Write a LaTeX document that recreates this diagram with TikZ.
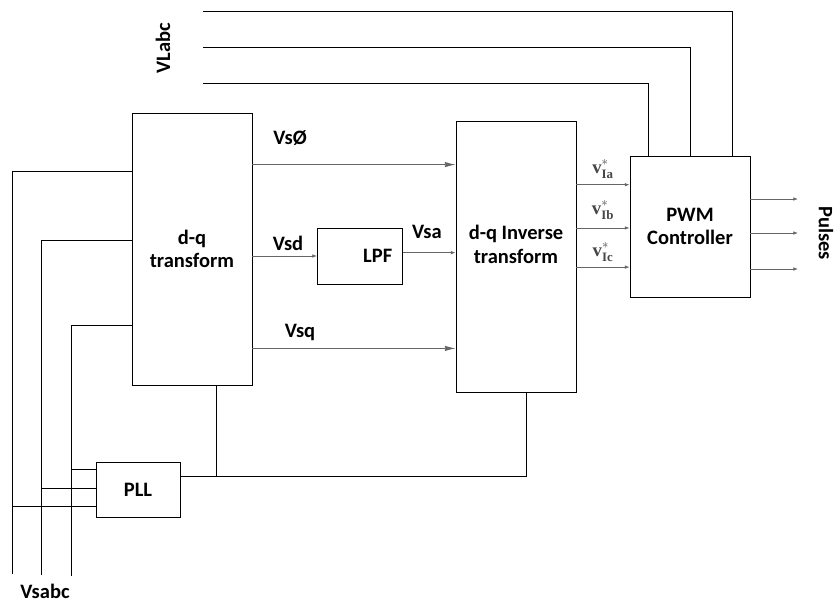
\documentclass[tikz,border=0pt]{standalone}
\usepackage{fontspec}
\setmainfont{Carlito}
\newfontfamily\vfont{Liberation Serif}
\usetikzlibrary{arrows.meta,positioning,calc}

\newcommand{\vref}[1]{{\vfont\bfseries v}$^{*}_{\mbox{\vfont\bfseries\fontsize{11}{12}\selectfont #1}}$}

\begin{document}
\begin{tikzpicture}[
    x=0.03cm, y=-0.03cm,
    font=\fontsize{17.5}{20}\selectfont\bfseries,
    blk/.style={draw, line width=0.8pt, align=center, inner sep=0pt},
    wire/.style={draw, line width=0.8pt},
    sig/.style={draw=gray!80!black, line width=0.6pt, -{Latex[length=4pt,width=3pt]}},
    big/.style={draw=gray!80!black, line width=0.6pt, -{Latex[length=9pt,width=4.5pt]}},
    lbl/.style={inner sep=1pt},
    vstar/.style={inner sep=1pt, text=gray!55!black, font=\fontsize{16}{18}\selectfont}
]
\useasboundingbox (0,0) rectangle (834,606);

\node[blk, minimum width=3.6cm, minimum height=8.16cm] (dq) at (192,249) {d-q\\transform};
\node[blk, minimum width=3.6cm, minimum height=8.13cm,
      label={[align=center, yshift=0.36cm]center:d-q Inverse\\transform}] (inv) at (516,256.5) {};
\node[blk, minimum width=2.55cm, minimum height=1.68cm,
      label={[anchor=east, xshift=-0.2cm]east:LPF}] (lpf) at (360,256) {};
\node[blk, minimum width=3.6cm, minimum height=4.23cm] (pwm) at (690,226.5) {PWM\\Controller};
\node[blk, minimum width=2.52cm, minimum height=1.65cm] (pll) at (138,489.5) {PLL};

\node[lbl] (lphi) at (290,138) {VsØ};
\node[lbl] (lsd) at (288,243) {Vsd};
\node[lbl] (lsq) at (300,332) {Vsq};
\node[lbl] (lsa) at (427,232) {Vsa};
\node[lbl, rotate=90] (lvl) at (163,48) {VLabc};
\node[lbl, rotate=-90] (lpul) at (826,233) {Pulses};
\node[lbl] (lvs) at (45,591) {Vsabc};
\node[vstar] (via) at (603,169) {\vref{Ia}};
\node[vstar] (vib) at (603,210) {\vref{Ib}};
\node[vstar] (vic) at (603,252) {\vref{Ic}};

\coordinate (la) at (203,11);
\coordinate (lb) at (203,47);
\coordinate (lc) at (203,83);
\coordinate (pa) at ($(pwm.north west)!0.16!(pwm.north east)$);
\coordinate (pb) at ($(pwm.north west)!0.5!(pwm.north east)$);
\coordinate (pc) at ($(pwm.north west)!0.85!(pwm.north east)$);

\coordinate (sa) at (12,574);
\coordinate (sb) at (41,575);
\coordinate (sc) at (71,576);
\coordinate (da) at ($(dq.north west)!0.217!(dq.south west)$);
\coordinate (db) at ($(dq.north west)!0.47!(dq.south west)$);
\coordinate (dc) at ($(dq.north west)!0.78!(dq.south west)$);
\coordinate (qa) at ($(pll.north west)!0.8!(pll.south west)$);
\coordinate (qb) at ($(pll.north west)!0.49!(pll.south west)$);
\coordinate (qc) at ($(pll.north west)!0.145!(pll.south west)$);

\coordinate (iphi) at ($(inv.north west)!0.162!(inv.south west)$);
\coordinate (isq) at ($(inv.north west)!0.838!(inv.south west)$);
\coordinate (lpfo) at ([yshift=0.1cm]lpf.east);
\coordinate (oa) at ($(inv.north east)!0.236!(inv.south east)$);
\coordinate (ob) at ($(inv.north east)!0.395!(inv.south east)$);
\coordinate (oc) at ($(inv.north east)!0.539!(inv.south east)$);
\coordinate (ua) at (798,199);
\coordinate (ub) at (798,233);
\coordinate (uc) at (798,269);

\coordinate (dqb) at ($(dq.south west)!0.7!(dq.south east)$);
\coordinate (invb) at ($(inv.south west)!0.583!(inv.south east)$);
\coordinate (pllo) at ($(pll.north east)!0.27!(pll.south east)$);

\draw[wire] (la) -| (pc);
\draw[wire] (lb) -| (pb);
\draw[wire] (lc) -| (pa);

\draw[wire] (sa) |- (da);
\draw[wire] (sb) |- (db);
\draw[wire] (sc) |- (dc);
\draw[wire] (sa |- qa) -- (qa);
\draw[wire] (sb |- qb) -- (qb);
\draw[wire] (sc |- qc) -- (qc);

\draw[big] (dq.east |- iphi) -- (iphi);
\draw[sig] (dq.east |- lpf.west) -- (lpf.west);
\draw[sig] (lpfo) -- (inv.west |- lpfo);
\draw[big] (dq.east |- isq) -- (isq);

\draw[sig] (oa) -- (pwm.west |- oa);
\draw[sig] (ob) -- (pwm.west |- ob);
\draw[sig] (oc) -- (pwm.west |- oc);

\draw[sig] (pwm.east |- ua) -- (ua);
\draw[sig] (pwm.east |- ub) -- (ub);
\draw[sig] (pwm.east |- uc) -- (uc);

\draw[wire] (dqb) |- (pllo);
\draw[wire] (invb) |- (pllo);
\end{tikzpicture}
\end{document}
